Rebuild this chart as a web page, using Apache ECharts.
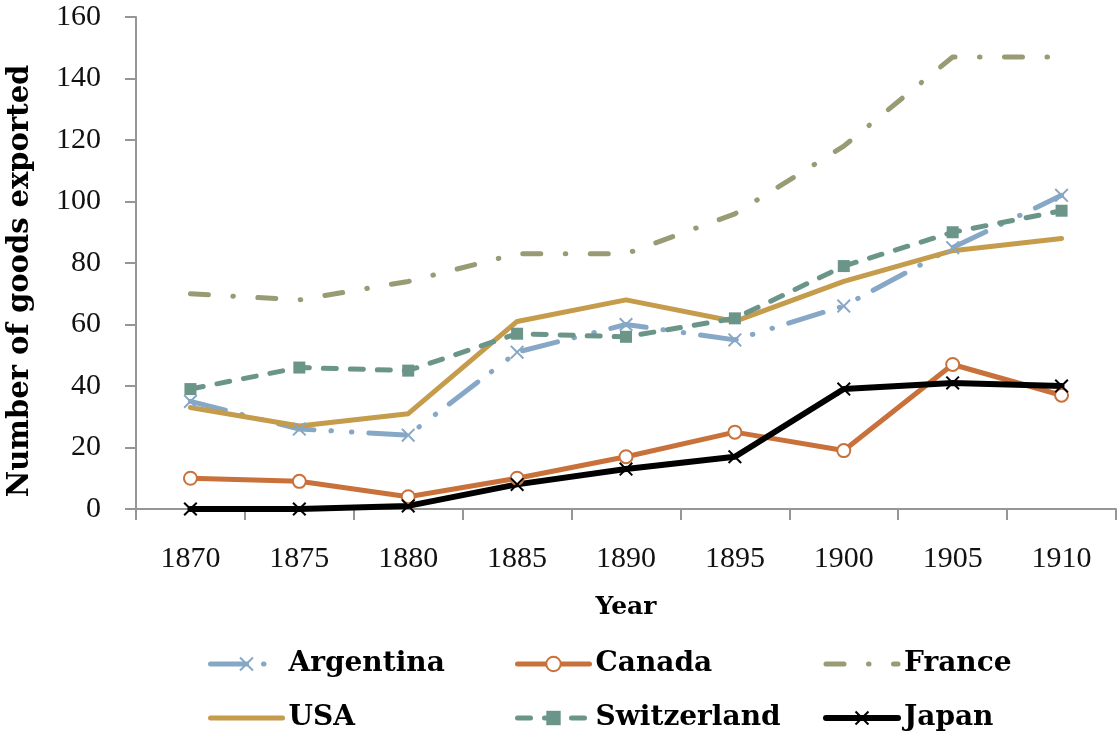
<!DOCTYPE html>
<html>
<head>
<meta charset="utf-8">
<style>
  html, body { margin: 0; padding: 0; background: #ffffff; }
  #chart { width: 1117px; height: 734px; }
</style>
<script src="https://cdn.jsdelivr.net/npm/echarts@6/dist/echarts.min.js"></script>
</head>
<body>
<div id="chart"></div>
<script>
// Export counts by country, 1870-1910
const years = ['1870', '1875', '1880', '1885', '1890', '1895', '1900', '1905', '1910'];
const argentina   = [35, 26, 24, 51, 60, 55, 66, 85, 102];
const canada      = [10, 9, 4, 10, 17, 25, 19, 47, 37];
const france      = [70, 68, 74, 83, 83, 96, 118, 147, 147];
const usa         = [33, 27, 31, 61, 68, 61, 74, 84, 88];
const switzerland = [39, 46, 45, 57, 56, 62, 79, 90, 97];
const japan       = [0, 0, 1, 8, 13, 17, 39, 41, 40];
const yTicks = { min: 0, max: 160, step: 20 };

const labelFont = 'Liberation Serif';
const boldFont = 'DejaVu Serif';

// filled cross glyph used as the "x" marker
const crossPath = 'path://M1.4,0 L7,5.6 L12.6,0 L14,1.4 L8.4,7 L14,12.6 L12.6,14 L7,8.4 L1.4,14 L0,12.6 L5.6,7 L0,1.4 Z';

const styles = {
  Argentina:   { color: '#86a7c5', width: 5, dash: [36, 17, 0.5, 20, 0.5, 17], marker: true },
  Canada:      { color: '#c8713b', width: 5, dash: 'solid', marker: true },
  France:      { color: '#989b74', width: 5, dash: [18, 24.5, 0.5, 24.5], marker: false },
  USA:         { color: '#c49c4c', width: 5, dash: 'solid', marker: false },
  Switzerland: { color: '#6b9589', width: 5, dash: [13, 14], marker: true },
  Japan:       { color: '#000000', width: 6, dash: 'solid', marker: true }
};

function lineSeries(name, data, opts) {
  const s = styles[name];
  return Object.assign({
    name: name,
    type: 'line',
    data: data,
    symbol: 'none',
    lineStyle: { color: s.color, width: s.width, cap: 'round', join: 'round', type: s.dash },
    itemStyle: { color: s.color },
    emphasis: { disabled: true },
    animation: false
  }, opts);
}

const series = [
  lineSeries('Argentina', argentina, { symbol: crossPath, symbolSize: 14 }),
  lineSeries('Canada', canada, {
    symbol: 'circle', symbolSize: 13,
    itemStyle: { color: '#ffffff', borderColor: styles.Canada.color, borderWidth: 2 }
  }),
  lineSeries('France', france, {}),
  lineSeries('USA', usa, {}),
  lineSeries('Switzerland', switzerland, { symbol: 'rect', symbolSize: 12 }),
  lineSeries('Japan', japan, { symbol: crossPath, symbolSize: 14 })
];

function legendItem(name) {
  const s = styles[name];
  const item = {
    name: name,
    lineStyle: { width: s.width, color: s.color, type: s.dash, cap: 'round' }
  };
  if (!s.marker) item.itemStyle = { opacity: 0 };
  return item;
}

function legendColumn(left, names) {
  return {
    orient: 'vertical',
    left: left,
    top: 649,
    itemWidth: 72,
    itemHeight: 18,
    itemGap: 24,
    padding: 0,
    data: names.map(legendItem),
    selectedMode: false,
    textStyle: {
      fontFamily: boldFont, fontWeight: 'bold', fontSize: 28,
      color: '#000', lineHeight: 30, padding: [0, 0, 0, 1]
    }
  };
}

const chart = echarts.init(document.getElementById('chart'), null, { renderer: 'canvas' });
chart.setOption({
  backgroundColor: '#ffffff',
  animation: false,
  grid: { left: 136, right: 1, top: 17, bottom: 225, containLabel: false },
  xAxis: {
    type: 'category',
    data: years,
    boundaryGap: true,
    axisLine: { show: true, lineStyle: { color: '#969696', width: 2 } },
    axisTick: { show: true, length: 11, lineStyle: { color: '#969696', width: 2 } },
    axisLabel: { margin: 35, fontFamily: labelFont, fontSize: 30, color: '#111' },
    name: 'Year',
    nameLocation: 'middle',
    nameGap: 86,
    nameTextStyle: { fontFamily: boldFont, fontWeight: 'bold', fontSize: 25, color: '#000' }
  },
  yAxis: {
    type: 'value',
    min: yTicks.min,
    max: yTicks.max,
    interval: yTicks.step,
    splitLine: { show: false },
    axisLine: { show: true, lineStyle: { color: '#969696', width: 2 } },
    axisTick: { show: true, length: 11, lineStyle: { color: '#969696', width: 2 } },
    axisLabel: { margin: 35, fontFamily: labelFont, fontSize: 30, color: '#111' }
  },
  legend: [
    legendColumn(208, ['Argentina', 'USA']),
    legendColumn(515, ['Canada', 'Switzerland']),
    legendColumn(823, ['France', 'Japan'])
  ],
  graphic: [{
    type: 'text',
    x: 20,
    y: 281,
    rotation: Math.PI / 2,
    style: {
      text: 'Number of goods exported',
      fontFamily: boldFont, fontWeight: 'bold', fontSize: 29,
      fill: '#000', align: 'center', verticalAlign: 'middle'
    }
  }],
  series: series
});
</script>
</body>
</html>
